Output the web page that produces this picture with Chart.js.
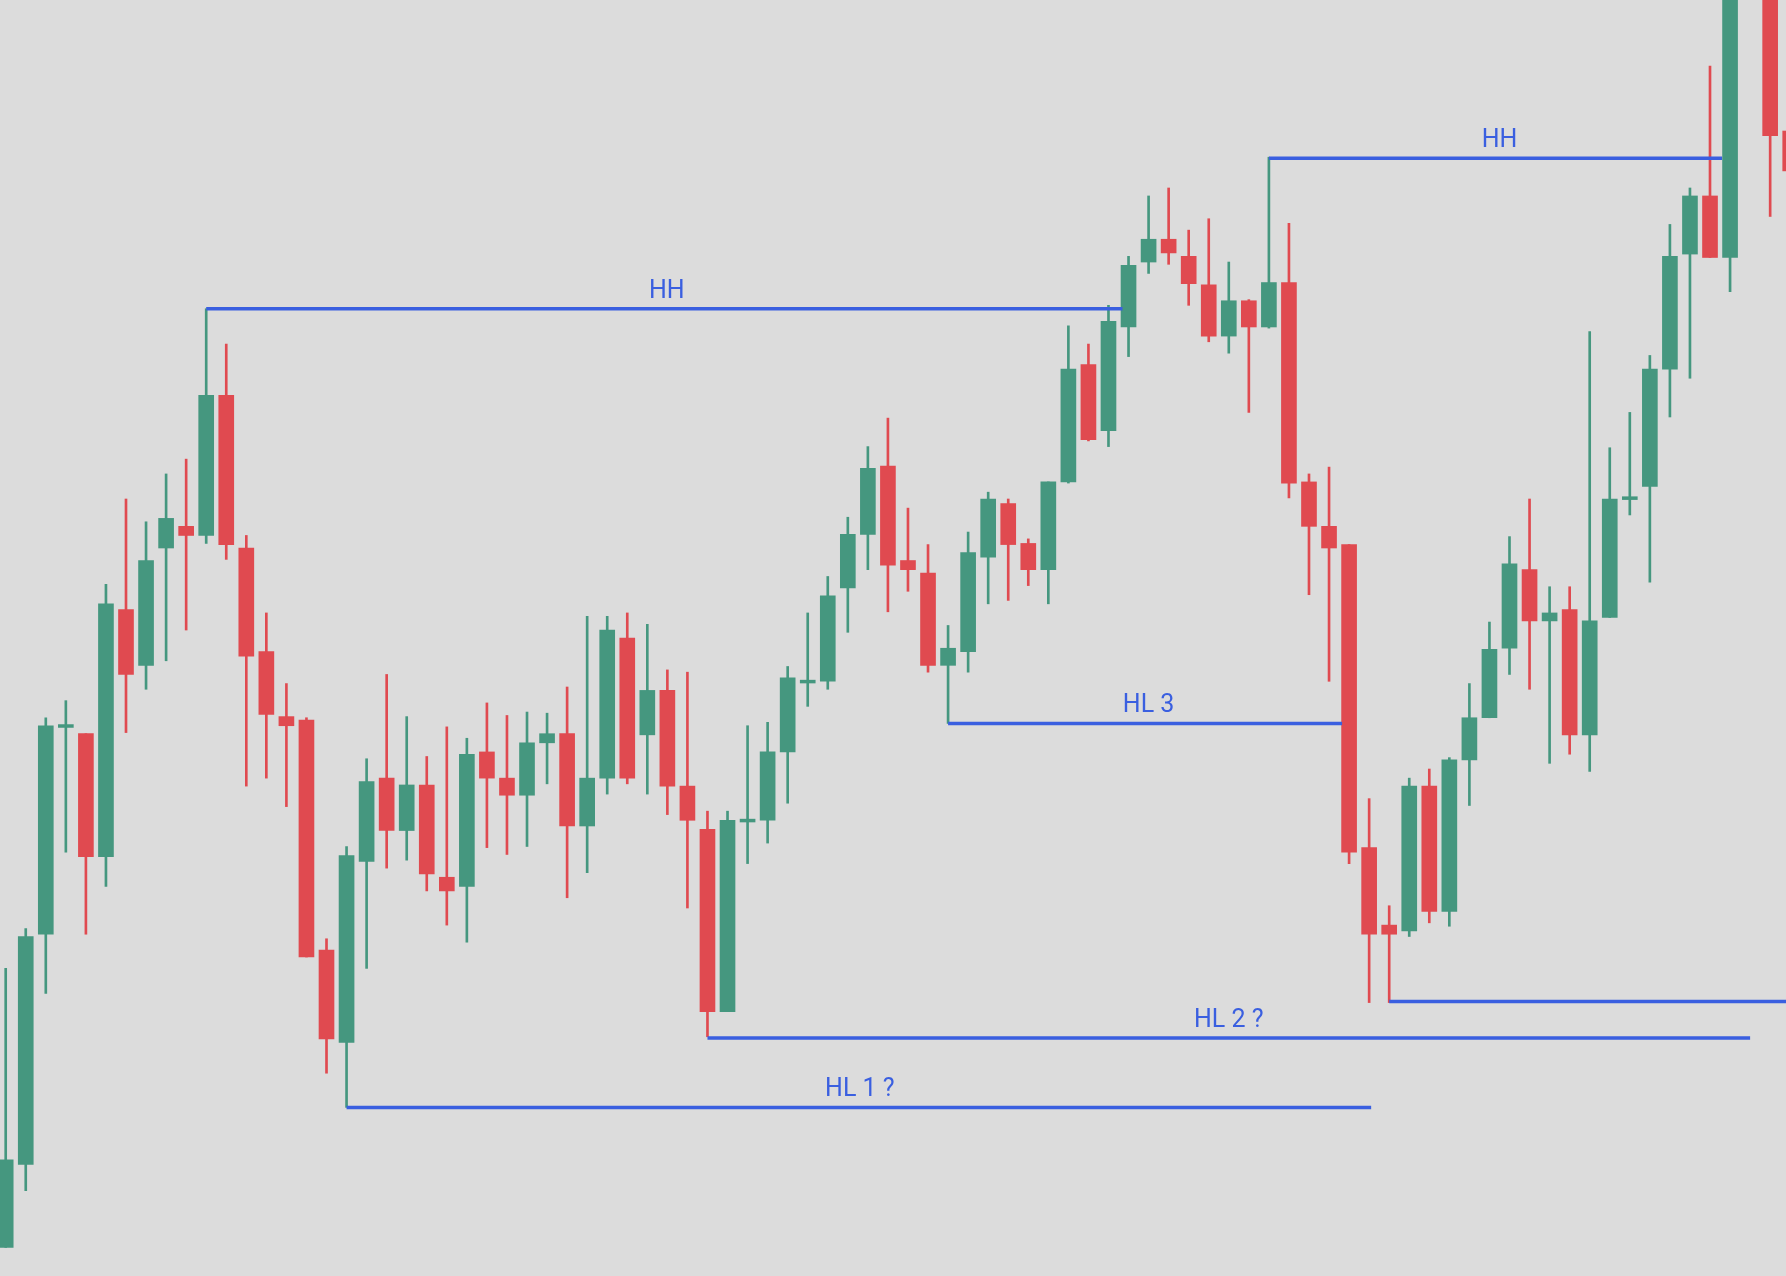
<!DOCTYPE html>
<html><head><meta charset="utf-8">
<script src="https://cdn.jsdelivr.net/npm/chart.js@4.4.1/dist/chart.umd.min.js"></script>
<style>html,body{margin:0;padding:0;background:#dcdcdc;overflow:hidden}#w{width:1786px;height:1276px}</style>
</head><body><div id="w"><canvas id="c"></canvas></div>
<script>
// price axis is drawn inverted (screen-like units): smaller value = higher
const opens  = [1095,1022,820,637,644,752,535,584,481,462,470,347,481,572,629,632,834,915,756,683,729,689,770,778,660,683,698,652,644,725,683,560,645,606,690,728,888,720,720,660,598,598,516,469,409,492,503,584,572,489,442,477,500,423,320,378,287,230,210,225,250,295,264,287,248,423,462,478,744,812,817,690,800,667,630,569,500,545,535,645,542,437,427,324,223,172,226,-60,0,115];
const highs  = [850,815,630,615,644,513,438,458,416,403,271,302,470,538,600,630,824,743,666,592,629,664,638,648,617,628,625,626,603,541,541,538,548,588,590,712,712,637,634,585,538,506,454,392,367,446,478,549,467,432,438,473,423,286,302,268,225,172,165,202,192,230,263,138,196,416,410,478,701,795,683,675,665,600,546,471,438,515,515,291,393,362,312,197,165,58,-10,-80,0,100];
const lows   = [1095,1045,872,748,820,778,643,605,580,553,477,491,690,683,708,840,942,972,850,762,755,782,812,827,744,750,743,688,788,766,697,688,697,715,797,910,888,758,740,705,620,605,555,500,537,519,590,635,590,530,527,514,530,424,387,392,313,240,232,268,300,310,362,288,437,522,598,758,880,880,822,810,813,707,630,592,605,670,662,677,542,452,511,366,332,226,256,-40,190,150];
const closes = [1018,822,637,636,752,530,592,492,455,470,347,478,576,627,637,840,912,751,686,729,689,767,782,662,683,698,652,644,725,683,553,683,606,690,720,888,720,719,660,595,597,523,469,411,496,500,584,569,485,438,478,500,423,324,386,282,233,210,222,249,295,264,287,248,424,462,481,748,820,820,690,800,667,630,570,495,545,538,645,545,438,436,324,225,172,226,0,-50,119,150];
const levelNames = ['HH','HH','HL 3','HL 2 ?','HL 1 ?',''];
const levelY     = [271,139,635,911,972,879];
const levelStart = [10,63,47,35,17,69];
const levelEnd   = [55.7,85.6,66.65,87,68.1,88.8];
const labelX     = [32.97,74.5,57.0,61.0,42.6,null];

const GREEN='#45977f', RED='#e04a50', BLUE='#3a5fe0';
const idx = opens.map((_,i)=>i);
const isUp = i => closes[i] <= opens[i];
const mk = (up, kind) => idx.map(i => (isUp(i)===up) ? {x:i, y: kind==='body' ? [Math.min(opens[i],closes[i]), Math.max(opens[i],closes[i])+ (Math.abs(opens[i]-closes[i])<2?1.5:0)] : [highs[i], lows[i]]} : null).filter(Boolean);

const datasets = [
 {type:'bar',data:mk(true,'wick'),backgroundColor:GREEN,barThickness:2,grouped:false,order:3},
 {type:'bar',data:mk(false,'wick'),backgroundColor:RED,barThickness:2,grouped:false,order:3},
 {type:'bar',data:mk(true,'body'),backgroundColor:GREEN,barThickness:15,grouped:false,order:2},
 {type:'bar',data:mk(false,'body'),backgroundColor:RED,barThickness:15,grouped:false,order:2},
];
levelY.forEach((y,k)=>datasets.push({type:'line',data:[{x:levelStart[k],y},{x:levelEnd[k],y}],borderColor:BLUE,borderWidth:3.5,pointRadius:0,order:1}));

const labels = {id:'lbl',afterDatasetsDraw(ch){const {ctx,scales:{x,y}}=ch;ctx.save();ctx.fillStyle=BLUE;ctx.font='25px Roboto';ctx.textAlign='center';ctx.textBaseline='alphabetic';
 levelNames.forEach((n,k)=>{if(!n)return;ctx.fillText(n,x.getPixelForValue(labelX[k]),y.getPixelForValue(levelY[k])-11);});ctx.restore();}};

new Chart(document.getElementById('c'),{
 data:{datasets},
 options:{responsive:true,maintainAspectRatio:false,animation:false,
  layout:{padding:0},
  plugins:{legend:{display:false},tooltip:{enabled:false}},
  scales:{x:{type:'linear',min:-0.284,max:88.79,offset:false,display:false},
          y:{type:'linear',min:0,max:1120,reverse:true,display:false}}},
 plugins:[labels]
});
</script></body></html>
